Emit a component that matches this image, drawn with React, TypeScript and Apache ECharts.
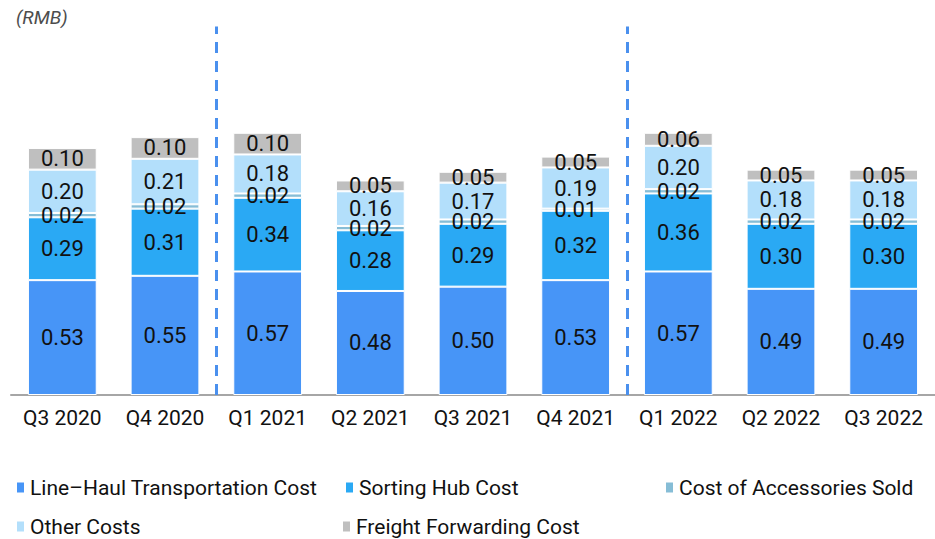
import React, { useEffect, useRef } from "react";
import * as echarts from "echarts";

const quarters = ["Q3 2020", "Q4 2020", "Q1 2021", "Q2 2021", "Q3 2021", "Q4 2021", "Q1 2022", "Q2 2022", "Q3 2022"];
const lineHaul = [0.53, 0.55, 0.57, 0.48, 0.5, 0.53, 0.57, 0.49, 0.49];
const sortingHub = [0.29, 0.31, 0.34, 0.28, 0.29, 0.32, 0.36, 0.3, 0.3];
const accessories = [0.02, 0.02, 0.02, 0.02, 0.02, 0.01, 0.02, 0.02, 0.02];
const otherCosts = [0.2, 0.21, 0.18, 0.16, 0.17, 0.19, 0.2, 0.18, 0.18];
const freight = [0.1, 0.1, 0.1, 0.05, 0.05, 0.05, 0.06, 0.05, 0.05];
// year boundaries (in category units) marked with dashed dividers
const yearDividers = [2, 6];

const seriesNames = [
  "Line–Haul Transportation Cost",
  "Sorting Hub Cost",
  "Cost of Accessories Sold",
  "Other Costs",
  "Freight Forwarding Cost",
];
const seriesColors = ["#4795f7", "#2aa9f4", "#86bdd6", "#b3dffb", "#bfbfbf"];

const FONT = "Roboto, 'Liberation Sans', sans-serif";

export default function App() {
  const ref = useRef<HTMLDivElement>(null);

  useEffect(() => {
    document.body.style.margin = "0";
    if (!ref.current) return;
    const chart = echarts.init(ref.current, undefined, { renderer: "svg" });
    const values = [lineHaul, sortingHub, accessories, otherCosts, freight];

    const barSeries = values.map((data, i) => ({
      name: seriesNames[i],
      type: "bar",
      stack: "cost",
      barWidth: "67%",
      data,
      itemStyle: { color: seriesColors[i], borderColor: "#ffffff", borderWidth: 1 },
      label: {
        show: true,
        position: "inside",
        color: "#111111",
        fontFamily: FONT,
        fontSize: 22,
        formatter: (p: any) => Number(p.value).toFixed(2),
      },
    }));

    const legendPos = [
      { left: 15, top: 477 },
      { left: 344, top: 477 },
      { left: 664, top: 477 },
      { left: 15, top: 516 },
      { left: 341, top: 516 },
    ];

    chart.setOption({
      animation: false,
      grid: { left: 11, width: 936, top: 26.6, bottom: 144 },
      graphic: [
        {
          type: "text",
          left: 16,
          top: 8,
          style: {
            text: "(RMB)",
            fontFamily: FONT,
            fontStyle: "italic",
            fontSize: 19,
            fill: "#4d4d4d",
          },
        },
      ],
      legend: legendPos.map((pos, i) => ({
        ...pos,
        data: [seriesNames[i]],
        icon: "rect",
        itemWidth: 9,
        itemHeight: 12,
        itemGap: 0,
        padding: 0,
        textStyle: { fontFamily: FONT, fontSize: 21, color: "#111111", padding: [0, 0, 0, 0] },
      })),
      xAxis: [
        {
          type: "category",
          data: quarters,
          axisLine: { lineStyle: { color: "#a6a6a6", width: 2 } },
          axisTick: { show: false },
          axisLabel: { color: "#111111", fontFamily: FONT, fontSize: 21, margin: 12, interval: 0 },
        },
        {
          type: "value",
          min: 0,
          max: quarters.length,
          show: false,
        },
      ],
      yAxis: { type: "value", min: 0, max: 1.7, show: false },
      series: [
        ...barSeries,
        {
          type: "line",
          xAxisIndex: 1,
          data: [],
          silent: true,
          markLine: {
            silent: true,
            symbol: "none",
            label: { show: false },
            lineStyle: { color: "#4a90ee", width: 3, type: [11, 8] },
            data: yearDividers.map((x) => ({ xAxis: x })),
          },
        },
      ],
    });

    return () => chart.dispose();
  }, []);

  return <div ref={ref} style={{ width: 935, height: 539 }} />;
}
